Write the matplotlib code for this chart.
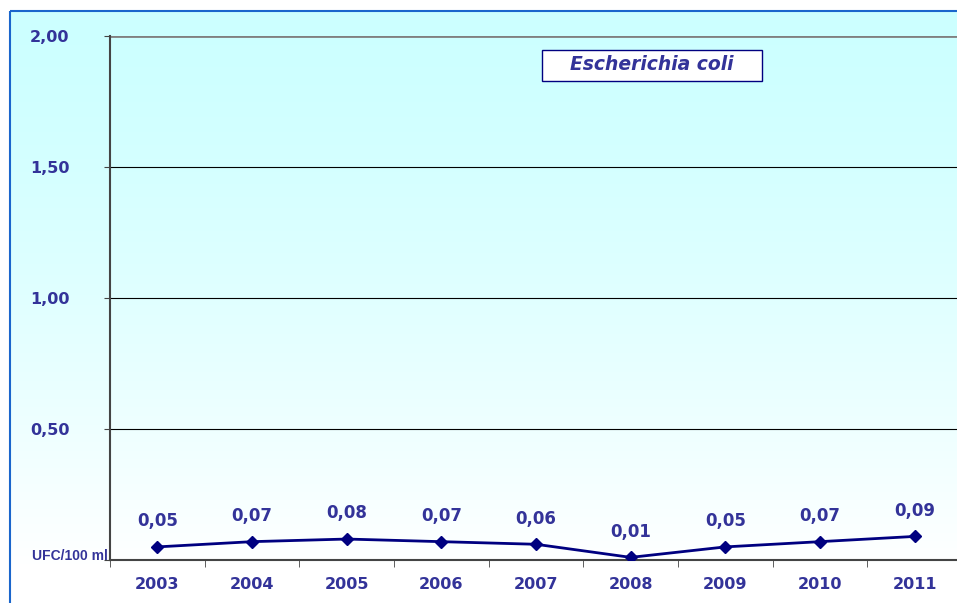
import numpy as np
import matplotlib.pyplot as plt
from matplotlib.patches import Rectangle

years = ["2003", "2004", "2005", "2006", "2007", "2008", "2009", "2010", "2011"]
values = [0.05, 0.07, 0.08, 0.07, 0.06, 0.01, 0.05, 0.07, 0.09]
value_labels = ["0,05", "0,07", "0,08", "0,07", "0,06", "0,01", "0,05", "0,07", "0,09"]
y_ticks = [0.0, 0.5, 1.0, 1.5, 2.0]
y_tick_labels = ["", "0,50", "1,00", "1,50", "2,00"]

text_col = "#333399"
line_col = "#000080"

W, H = 957, 603
fig = plt.figure(figsize=(W / 100, H / 100), dpi=100)

# background gradient + border
bg = fig.add_axes([0, 0, 1, 1], zorder=0)
bg.set_xlim(0, W)
bg.set_ylim(H, 0)
bg.axis("off")
t = np.linspace(0, 1, 256)
top = np.array([0.80, 1.0, 1.0])
img = top + (1 - top) * (t ** 1.4)[:, None]
img = img.reshape(256, 1, 3)
bg.imshow(img, extent=[10, W + 5, 565, 11], aspect="auto")
bg.add_patch(Rectangle((10, 11), W, H, fill=False, edgecolor="#1a66cc", lw=1.5))

# title box
bg.add_patch(Rectangle((542, 50), 220, 31, facecolor="white", edgecolor=line_col, lw=1, zorder=5))
bg.text(652, 65, "Escherichia coli", ha="center", va="center",
        color=text_col, fontsize=13.5, fontweight="bold", style="italic", zorder=6)

ax = fig.add_axes([110 / W, 1 - 560 / H, (962 - 110) / W, (560 - 36) / H], zorder=1)
ax.patch.set_alpha(0)

x = np.arange(len(years))
ax.plot(x, values, color=line_col, lw=2, marker="D", ms=6, zorder=4)
for xi, v, lab in zip(x, values, value_labels):
    ax.annotate(lab, (xi, v), xytext=(0, 12), textcoords="offset points",
                ha="center", va="bottom", color=text_col, fontsize=12, fontweight="bold")

ax.set_xlim(-0.5, len(years) - 0.5)
ax.set_ylim(0, 2.0)
ax.set_yticks(y_ticks)
ax.set_yticklabels(y_tick_labels, color=text_col, fontsize=11.5, fontweight="bold")
ax.tick_params(axis="y", length=4, pad=25, color="#444444")
ax.set_xticks(x)
ax.set_xticklabels(years, color=text_col, fontsize=11.5, fontweight="bold")
ax.tick_params(axis="x", length=0, pad=12)
ax.set_xticks(np.arange(-0.5, len(years) + 0.5), minor=True)
ax.tick_params(axis="x", which="minor", length=5, color="#444444", direction="out")

for yv in [0.5, 1.0, 1.5]:
    ax.axhline(yv, color="black", lw=0.8, zorder=1)
ax.axhline(2.0, color="#808080", lw=2, zorder=1)

for s in ["top", "right"]:
    ax.spines[s].set_visible(False)
ax.spines["left"].set_color("#444444")
ax.spines["bottom"].set_color("#444444")
ax.spines["left"].set_linewidth(1.5)
ax.spines["bottom"].set_linewidth(1.5)

fig.text(108 / W, 1 - 556 / H, "UFC/100 ml", ha="right", va="center",
         color=text_col, fontsize=10, fontweight="bold", family="Liberation Sans")

fig.savefig("out.png", dpi=100)
